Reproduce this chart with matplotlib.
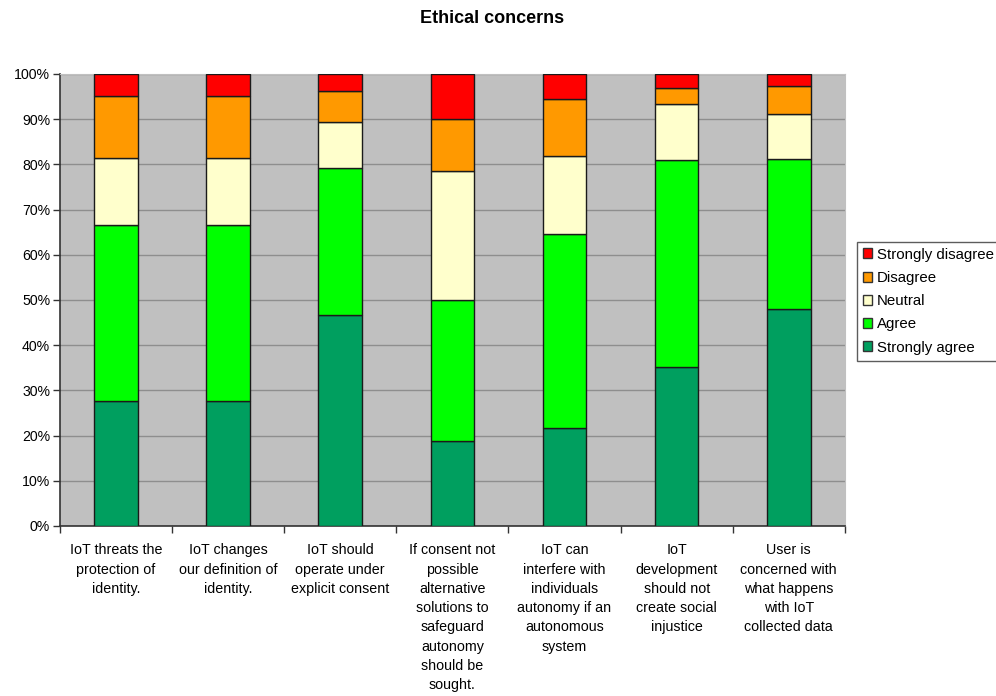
import matplotlib
matplotlib.use("Agg")
import matplotlib.pyplot as plt
from matplotlib.patches import Patch
import numpy as np

plt.rcParams['font.family'] = ['Liberation Sans', 'DejaVu Sans']

categories = [
    "IoT threats the\nprotection of\nidentity.",
    "IoT changes\nour definition of\nidentity.",
    "IoT should\noperate under\nexplicit consent",
    "If consent not\npossible\nalternative\nsolutions to\nsafeguard\nautonomy\nshould be\nsought.",
    "IoT can\ninterfere with\nindividuals\nautonomy if an\nautonomous\nsystem",
    "IoT\ndevelopment\nshould not\ncreate social\ninjustice",
    "User is\nconcerned with\nwhat happens\nwith IoT\ncollected data",
]
series_names = ["Strongly agree", "Agree", "Neutral", "Disagree", "Strongly disagree"]
strongly_agree = [27.7, 27.7, 46.6, 18.7, 21.7, 35.2, 48.0]
agree = [38.9, 38.9, 32.6, 31.3, 43.0, 45.8, 33.1]
neutral = [14.9, 14.9, 10.1, 28.5, 17.2, 12.4, 10.0]
disagree = [13.7, 13.7, 6.9, 11.5, 12.6, 3.6, 6.2]
strongly_disagree = [4.8, 4.8, 3.8, 10.0, 5.5, 3.0, 2.7]
colors = ["#009f5f", "#00ff00", "#ffffcc", "#ff9900", "#ff0000"]
yticks = [0, 10, 20, 30, 40, 50, 60, 70, 80, 90, 100]

fig = plt.figure(figsize=(9.96, 6.96), dpi=100)
ax = fig.add_axes([0.0602, 0.2443, 0.788, 0.6494])
ax.set_facecolor("#c0c0c0")

x = np.arange(len(categories))
data = [strongly_agree, agree, neutral, disagree, strongly_disagree]
bottom = np.zeros(len(categories))
for vals, col, name in zip(data, colors, series_names):
    vals = np.array(vals)
    ax.bar(x, vals, bottom=bottom, width=0.39, color=col, edgecolor="#1a1a1a",
           linewidth=1.0, label=name, zorder=3)
    bottom += vals

ax.set_xlim(-0.5, len(categories) - 0.5)
ax.set_ylim(0, 100)
ax.set_yticks(yticks)
ax.set_yticklabels([f"{t}%" for t in yticks], fontsize=10.2)
ax.yaxis.grid(True, color="#8e8e8e", linewidth=1.0, zorder=0)
ax.set_axisbelow(True)

ax.set_xticks(x)
ax.set_xticklabels(categories, fontsize=10.3, linespacing=1.48, va="top")
ax.tick_params(axis="x", which="major", length=0, pad=12.5)
ax.set_xticks(np.arange(-0.5, len(categories) + 0.5, 1), minor=True)
ax.tick_params(axis="x", which="minor", length=5, width=1, color="#333333", direction="out")
ax.tick_params(axis="y", length=5, width=1, color="#333333", direction="out", pad=2)

for s in ["top", "right"]:
    ax.spines[s].set_color("#c0c0c0")
for s in ["left", "bottom"]:
    ax.spines[s].set_color("#333333")
    ax.spines[s].set_linewidth(1.2)

fig.text(0.494, 0.973, "Ethical concerns", ha="center", va="center",
         fontsize=13, fontweight="bold")

handles = [Patch(facecolor=c, edgecolor="#333333", linewidth=1.0, label=n)
           for c, n in zip(colors, series_names)][::-1]
leg = fig.legend(handles=handles, loc="upper left", bbox_to_anchor=(0.860, 0.653),
                 fontsize=10.8, frameon=True, fancybox=False, handlelength=0.65,
                 handleheight=0.65, handletextpad=0.3, borderpad=0.4,
                 labelspacing=0.62, borderaxespad=0)
leg.get_frame().set_edgecolor("#333333")
leg.get_frame().set_linewidth(1.0)

fig.savefig("out.png", dpi=100)
